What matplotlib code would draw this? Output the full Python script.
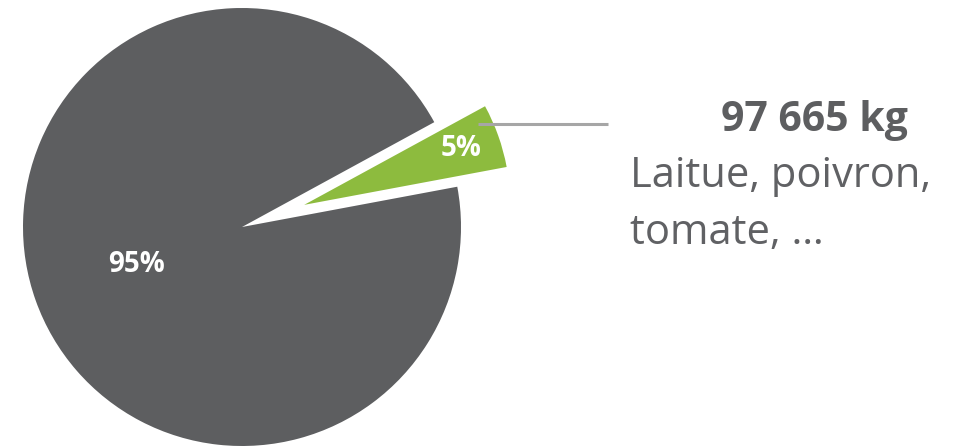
import numpy as np
import matplotlib.pyplot as plt

plt.rcParams['font.family'] = ['Open Sans', 'DejaVu Sans']

# data
labels = ['Laitue, poivron, tomate, …', 'Autres']
shares = [5, 95]
colors = ['#8DBB3E', '#5D5E60']
total_kg = '97 665 kg'
desc_lines = ['Laitue, poivron,', 'tomate, …']

W, H = 956, 446
fig = plt.figure(figsize=(W / 100, H / 100), dpi=100)
ax = fig.add_axes([0, 0, 1, 1])

# pixel-like data space, y up
cx, cy, r = 242, H - 227, 219
wedges, _ = ax.pie(shares, colors=colors, startangle=10.6, counterclock=True,
                   center=(cx, cy), radius=r, explode=[66, 0],
                   wedgeprops=dict(linewidth=0))
wedges[0].set_radius(206)
ax.set_xlim(0, W)
ax.set_ylim(0, H)
ax.set_aspect('equal')
ax.axis('off')

# percent labels
label_dist = [0.81, 0.51]
for w, s, d in zip(wedges, shares, label_dist):
    th = np.deg2rad((w.theta1 + w.theta2) / 2)
    x = w.center[0] + d * w.r * np.cos(th)
    y = w.center[1] + d * w.r * np.sin(th)
    ax.text(x, y, f'{s}%', color='white', fontsize=20, fontweight='bold',
            ha='center', va='center')

# leader line from green wedge to annotation
w = wedges[0]
th = np.deg2rad((w.theta1 + w.theta2) / 2 + 5.5)
x0 = w.center[0] + 0.93 * w.r * np.cos(th)
y0 = w.center[1] + 0.93 * w.r * np.sin(th)
ax.plot([x0, 608], [y0, y0], color='#A6A6A6', lw=2.2, solid_capstyle='butt')

ax.text(908, H - 131, total_kg, color='#5D5E60', fontsize=29.5,
        fontweight='bold', ha='right', va='baseline')
ax.text(630, H - 187, desc_lines[0], color='#606164', fontsize=30,
        ha='left', va='baseline')
ax.text(630, H - 244, desc_lines[1], color='#606164', fontsize=30,
        ha='left', va='baseline')

plt.savefig('out.png', dpi=100)
plt.close()
